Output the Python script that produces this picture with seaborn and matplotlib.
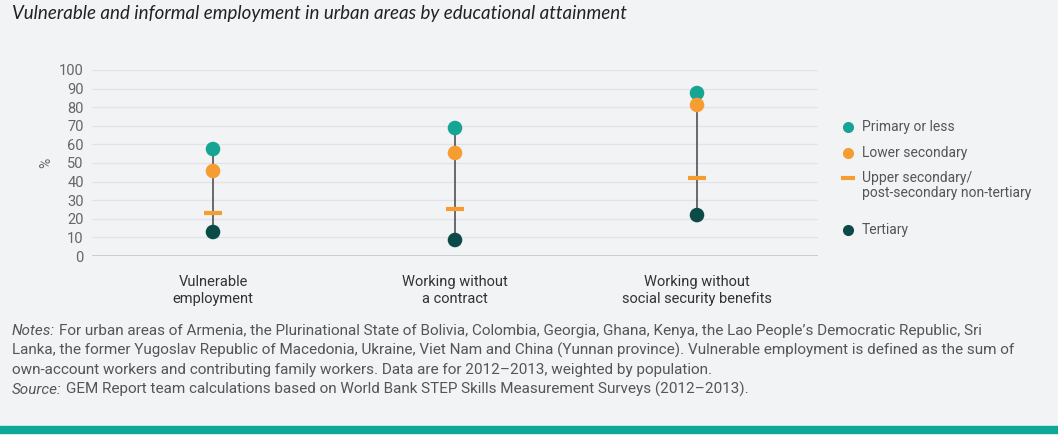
import numpy as np
import pandas as pd
import matplotlib.pyplot as plt
import seaborn as sns
from matplotlib.lines import Line2D

categories = ['Vulnerable\nemployment', 'Working without\na contract',
              'Working without\nsocial security benefits']
primary = [57.5, 68.8, 87.6]
lower_sec = [45.7, 55.4, 81.2]
upper_sec = [23.1, 25.3, 41.9]
tertiary = [12.9, 8.6, 22.0]
levels = ['Primary or less', 'Lower secondary',
          'Upper secondary/\npost-secondary non-tertiary', 'Tertiary']
yticks = list(range(0, 101, 10))

bg = '#f2f3f5'
colors = {'Primary or less': '#17a593',
          'Lower secondary': '#f59d31',
          'Upper secondary/\npost-secondary non-tertiary': '#f59d31',
          'Tertiary': '#0c4a47'}

df = pd.DataFrame({'category': categories * 4,
                   'level': np.repeat(levels, 3),
                   'value': primary + lower_sec + upper_sec + tertiary})

sns.set_style('white')
plt.rcParams['font.family'] = ['Roboto', 'DejaVu Sans']

W, H = 1058, 447
fig = plt.figure(figsize=(W / 100, H / 100), dpi=100, facecolor=bg)
ax = fig.add_axes([92 / W, 1 - 256 / H, (818 - 92) / W, 186 / H])
ax.set_facecolor(bg)

# grid
for t in yticks:
    ax.axhline(t, color='#c9ccd0' if t == 0 else '#e1e3e6',
               lw=1.4 if t == 0 else 0.9, zorder=0)

# range lines
lo = df.groupby('category', sort=False)['value'].min()
hi = df.groupby('category', sort=False)['value'].max()
ax.vlines(lo.index, lo.values, hi.values, color='#444444', lw=1.1, zorder=1)

circles = df[df['level'] != levels[2]]
sns.scatterplot(data=circles, x='category', y='value', hue='level',
                palette=colors, s=110, edgecolor='none', legend=False,
                ax=ax, zorder=3)
dash = df[df['level'] == levels[2]]
sns.scatterplot(data=dash, x='category', y='value', color=colors[levels[2]],
                marker='_', s=180, linewidth=3, legend=False, ax=ax, zorder=3)

ax.set_xlim(-0.5, 2.5)
ax.set_ylim(0, 100)
ax.set_yticks(yticks)
ax.set_xlabel('')
ax.set_ylabel('%', color='#666666', fontsize=10, labelpad=4)
ax.tick_params(axis='y', length=0, labelsize=10.5, labelcolor='#666666', pad=6)
ax.tick_params(axis='x', length=0, labelsize=10.5, labelcolor='#333333', pad=14)
for lab in ax.get_xticklabels():
    lab.set_linespacing(1.25)
sns.despine(ax=ax, left=True, bottom=True)

# legend, drawn by hand so the two-line entry sits like the original
leg_y = [127, 153, 178, 230]
leg_marker = ['o', 'o', '_', 'o']
for lev, yy, mk in zip(levels, leg_y, leg_marker):
    fig.add_artist(Line2D([848 / W], [1 - yy / H], transform=fig.transFigure,
                          ls='none', marker=mk, ms=8 if mk == 'o' else 10,
                          mew=0 if mk == 'o' else 3, color=colors[lev]))
    fig.text(862 / W, 1 - (yy - 7) / H, lev, fontsize=10, color='#555555',
             va='top', linespacing=1.05)

fig.text(12 / W, 1 - 14 / H,
         'Vulnerable and informal employment in urban areas by educational attainment',
         family=['Lato', 'DejaVu Sans'], style='italic', fontsize=13.5,
         color='#222222', va='center')

notes = ("For urban areas of Armenia, the Plurinational State of Bolivia, Colombia, Georgia, Ghana, Kenya, "
         "the Lao People\u2019s Democratic Republic, Sri\n"
         "Lanka, the former Yugoslav Republic of Macedonia, Ukraine, Viet Nam and China (Yunnan province). "
         "Vulnerable employment is defined as the sum of\n"
         "own-account workers and contributing family workers. Data are for 2012\u20132013, weighted by population.")
source = 'GEM Report team calculations based on World Bank STEP Skills Measurement Surveys (2012\u20132013).'
fs = 11.0
tc = '#555555'
x0 = 12 / W
y0 = 1 - 331 / H
step = 19.5 / H
lines = notes.split('\n')
renderer = fig.canvas.get_renderer()


def lead(y, label, rest):
    t = fig.text(x0, y, label, style='italic', fontsize=fs, color=tc, va='center')
    w = t.get_window_extent(renderer).width / fig.bbox.width
    fig.text(x0 + w + 4 / W, y, rest, fontsize=fs, color=tc, va='center')


lead(y0, 'Notes:', lines[0])
fig.text(x0, y0 - step, lines[1], fontsize=fs, color=tc, va='center')
fig.text(x0, y0 - 2 * step, lines[2], fontsize=fs, color=tc, va='center')
lead(y0 - 3 * step, 'Source:', source)

# bottom band
fig.patches.append(plt.Rectangle((0, 0), 1, 14 / H, transform=fig.transFigure,
                                 color='white', zorder=0))
fig.patches.append(plt.Rectangle((0, 14 / H), 1, 7 / H, transform=fig.transFigure,
                                 color='#0ea898', zorder=1))

fig.savefig('out.png', dpi=100, facecolor=bg)
